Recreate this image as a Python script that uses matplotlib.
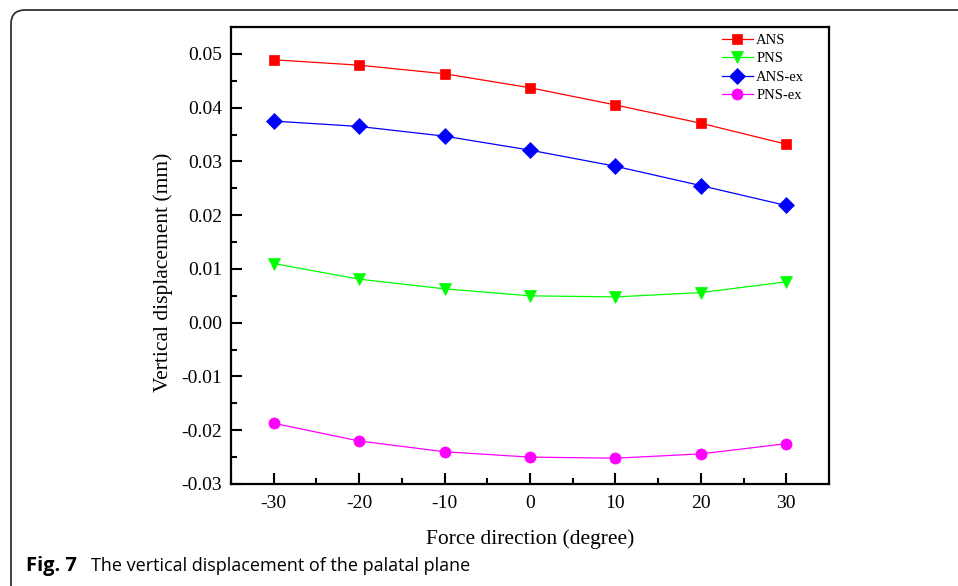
import matplotlib
matplotlib.use("Agg")
import matplotlib.pyplot as plt
from matplotlib.patches import FancyBboxPatch
from matplotlib.ticker import MultipleLocator, FormatStrFormatter

angles = [-30, -20, -10, 0, 10, 20, 30]
ans = [0.0489, 0.0479, 0.0463, 0.0437, 0.0405, 0.0371, 0.0332]
pns = [0.0110, 0.0081, 0.0063, 0.0050, 0.0048, 0.0056, 0.0076]
ans_ex = [0.0375, 0.0365, 0.0347, 0.0321, 0.0291, 0.0255, 0.0218]
pns_ex = [-0.0187, -0.0220, -0.0240, -0.0250, -0.0252, -0.0244, -0.0225]

series_names = ["ANS", "PNS", "ANS-ex", "PNS-ex"]
series_colors = ["#FF0000", "#00FF00", "#0000FF", "#FF00FF"]
series_markers = ["s", "v", "D", "o"]
series_sizes = [7, 8, 8, 8]

plt.rcParams['axes.unicode_minus'] = False
plt.rcParams['font.family'] = ['Liberation Serif', 'DejaVu Serif']

fig = plt.figure(figsize=(9.58, 5.86), dpi=100)
ax = fig.add_axes([231/958, 1-484/586, (829-231)/958, (484-27)/586])

for vals, name, c, m, ms in zip([ans, pns, ans_ex, pns_ex], series_names,
                                series_colors, series_markers, series_sizes):
    ax.plot(angles, vals, color=c, lw=0.9, marker=m, ms=ms, mfc=c, mec=c,
            mew=0.5, label=name)

ax.set_xlim(-35, 35)
ax.set_ylim(-0.03, 0.055)
ax.xaxis.set_major_locator(MultipleLocator(10))
ax.xaxis.set_minor_locator(MultipleLocator(5))
ax.yaxis.set_major_locator(MultipleLocator(0.01))
ax.yaxis.set_minor_locator(MultipleLocator(0.005))
ax.yaxis.set_major_formatter(FormatStrFormatter('%.2f'))
ax.xaxis.set_major_formatter(FormatStrFormatter('%d'))
ax.tick_params(which='both', direction='in', top=False, right=False, width=1.5,
               labelsize=14)
ax.tick_params(axis='y', pad=6.5)
ax.tick_params(axis='x', pad=8)
ax.tick_params(which='major', length=8)
ax.tick_params(which='minor', length=4)
for s in ax.spines.values():
    s.set_linewidth(1.6)

ax.set_xlabel("Force direction (degree)", fontsize=15.5, labelpad=12)
ax.set_ylabel("Vertical displacement (mm)", fontsize=15.5)
ax.yaxis.set_label_coords(-0.097, 0.464)

leg = ax.legend(loc='upper left', bbox_to_anchor=(0.821, 0.985), frameon=False,
                fontsize=10.5, handlelength=2.1, labelspacing=0.35,
                handletextpad=0.25, borderaxespad=0, borderpad=0)

# outer frame with rounded top-left corner
frame = FancyBboxPatch((11, -60), 1100, 576 + 60, transform=None,
                       boxstyle="round,pad=0,rounding_size=14",
                       fc='none', ec='#333333', lw=1.3, clip_on=False)
fig.patches.append(frame)

fig.text(26/958, 1-571/586, "Fig. 7", fontsize=14.5, fontweight='bold',
         family=['Open Sans', 'DejaVu Sans'], va='baseline', ha='left')
fig.text(91/958, 1-571/586, "The vertical displacement of the palatal plane",
         fontsize=13, family=['Open Sans', 'DejaVu Sans'], va='baseline', ha='left')

fig.savefig("out.png", dpi=100)
